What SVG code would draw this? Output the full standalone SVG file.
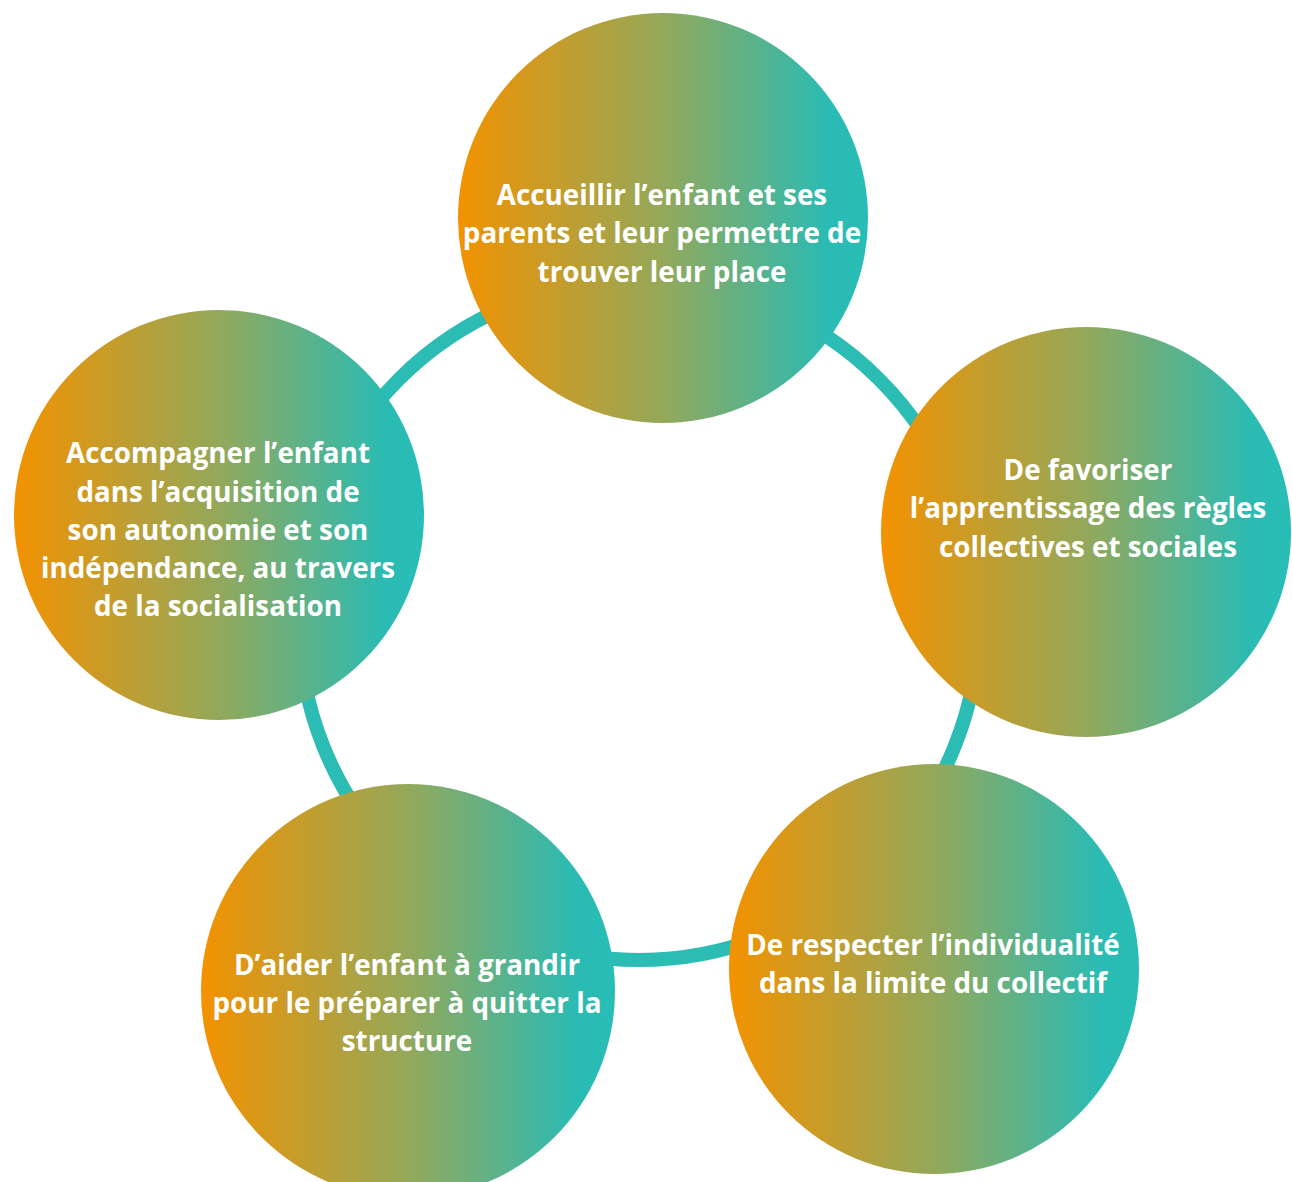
<svg xmlns="http://www.w3.org/2000/svg" width="1292" height="1182" viewBox="0 0 1292 1182">
  <defs>
    <linearGradient id="g" x1="0" y1="0" x2="1" y2="0">
      <stop offset="0" stop-color="#F39200"/>
      <stop offset="0.5" stop-color="#94A85A"/>
      <stop offset="0.9" stop-color="#2BBBB3"/>
      <stop offset="1" stop-color="#27BDB6"/>
    </linearGradient>
    <style>
      .bub { fill: url(#g); }
      .lbl { font-family: "Open Sans", "Liberation Sans", sans-serif; font-weight: 700; font-size: 27.8px; fill: #FFFFFF; text-anchor: middle; }
      .ring { fill: none; stroke: #2BBDB4; stroke-width: 14; }
    </style>
  </defs>
  <rect width="1292" height="1182" fill="#FFFFFF"/>
  <g id="connectors">
    <circle class="ring" cx="639" cy="620" r="340"/>
  </g>
  <g id="node-accueillir">
    <circle class="bub" cx="663" cy="218" r="205"/>
    <text class="lbl"><tspan x="662" y="205">Accueillir l’enfant et ses</tspan><tspan x="662" y="243">parents et leur permettre de</tspan><tspan x="662" y="282">trouver leur place</tspan></text>
  </g>
  <g id="node-favoriser">
    <circle class="bub" cx="1086" cy="532" r="205"/>
    <text class="lbl"><tspan x="1088" y="480">De favoriser</tspan><tspan x="1088" y="518">l’apprentissage des règles</tspan><tspan x="1088" y="557">collectives et sociales</tspan></text>
  </g>
  <g id="node-respecter">
    <circle class="bub" cx="934" cy="969" r="205"/>
    <text class="lbl"><tspan x="933" y="955">De respecter l’individualité</tspan><tspan x="933" y="993">dans la limite du collectif</tspan></text>
  </g>
  <g id="node-aider">
    <circle class="bub" cx="408" cy="991" r="207"/>
    <text class="lbl"><tspan x="407" y="975">D’aider l’enfant à grandir</tspan><tspan x="407" y="1013">pour le préparer à quitter la</tspan><tspan x="407" y="1051">structure</tspan></text>
  </g>
  <g id="node-accompagner">
    <circle class="bub" cx="219" cy="515" r="205"/>
    <text class="lbl"><tspan x="218" y="463">Accompagner l’enfant</tspan><tspan x="218" y="502">dans l’acquisition de</tspan><tspan x="218" y="540">son autonomie et son</tspan><tspan x="218" y="578">indépendance, au travers</tspan><tspan x="218" y="616">de la socialisation</tspan></text>
  </g>
</svg>
